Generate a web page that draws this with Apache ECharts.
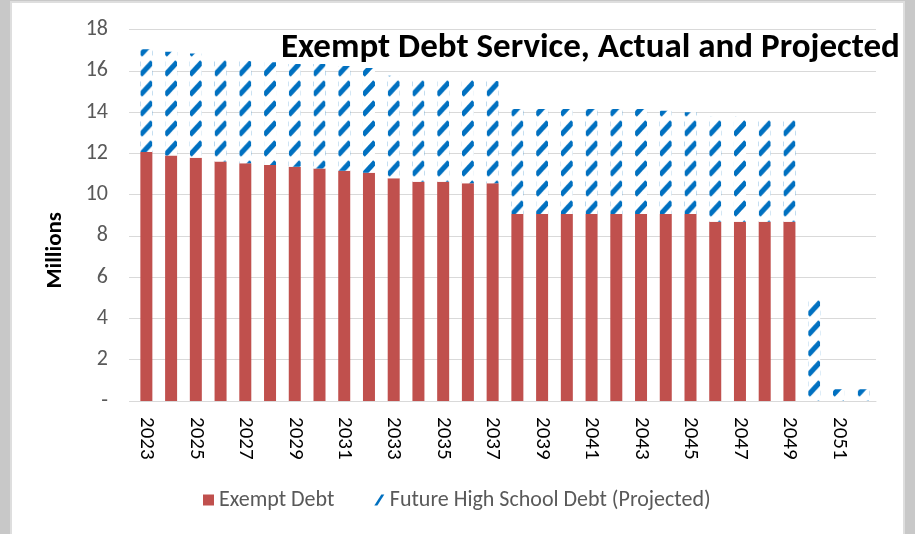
<!DOCTYPE html>
<html>
<head>
<meta charset="utf-8">
<script src="https://cdn.jsdelivr.net/npm/echarts@6/dist/echarts.min.js"></script>
<style>
  html, body { margin: 0; padding: 0; width: 915px; height: 534px; overflow: hidden; background: #c8c8c8; }
  #panel { position: absolute; left: 10px; top: 1px; width: 891px; height: 540px;
           background: #ffffff; border: 2px solid #dedede; }
  #chart { position: absolute; left: 0; top: 0; width: 915px; height: 534px; }
</style>
</head>
<body>
<div id="panel"></div>
<div id="chart"></div>
<script>
// Fiscal years
const years = [
  '2023','2024','2025','2026','2027','2028','2029','2030','2031','2032',
  '2033','2034','2035','2036','2037','2038','2039','2040','2041','2042',
  '2043','2044','2045','2046','2047','2048','2049','2050','2051','2052'
];

// Existing exempt debt service ($ millions)
const exemptDebt = [
  12.06, 11.90, 11.79, 11.61, 11.52, 11.43, 11.35, 11.26, 11.16, 11.06,
  10.79, 10.62, 10.62, 10.55, 10.55, 9.06, 9.06, 9.06, 9.06, 9.06,
  9.06, 9.06, 9.06, 8.69, 8.69, 8.69, 8.69, 0, 0, 0
];

// Projected debt service for the future high school ($ millions)
const futureDebt = [
  4.98, 5.02, 5.05, 4.96, 4.95, 4.98, 4.98, 5.07, 5.07, 5.07,
  4.97, 5.05, 4.96, 5.03, 4.95, 5.09, 5.09, 5.09, 5.09, 5.09,
  5.09, 5.00, 4.93, 5.08, 5.08, 5.01, 5.01, 5.00, 0.57, 0.57
];

const yTicks = { min: 0, max: 18, interval: 2 };

const RED = '#C0504D';
const BLUE = '#0070C0';
const FONT = 'Carlito, Lato, "Noto Sans", sans-serif';
const BAR_W = 12;

// Dashed upward-diagonal fill used for the projected series
const TILE_W = 12, TILE_H = 20;
function makeDashTile() {
  const c = document.createElement('canvas');
  c.width = TILE_W; c.height = TILE_H;
  const ctx = c.getContext('2d');
  ctx.fillStyle = '#ffffff';
  ctx.fillRect(0, 0, TILE_W, TILE_H);
  ctx.strokeStyle = BLUE;
  ctx.lineWidth = 5;
  ctx.lineCap = 'butt';
  for (const dy of [-TILE_H, 0, TILE_H]) {
    ctx.beginPath();
    ctx.moveTo(0, 15 + dy);
    ctx.lineTo(TILE_W, 2 + dy);
    ctx.stroke();
  }
  return c;
}
const dashTile = makeDashTile();

const chart = echarts.init(document.getElementById('chart'), null, { renderer: 'canvas' });

function futureSeriesData(barLefts) {
  return futureDebt.map((v, i) => ({
    value: v,
    itemStyle: {
      color: { image: dashTile, repeat: 'repeat', x: barLefts ? barLefts[i] : 0, y: 0 }
    }
  }));
}

chart.setOption({
  backgroundColor: 'transparent',
  animation: false,
  title: {
    text: 'Exempt Debt Service, Actual and Projected',
    left: 276,
    top: 26,
    textStyle: { fontFamily: FONT, fontSize: 35, fontWeight: 'bold', color: '#000000' }
  },
  grid: { left: 134, right: 39, top: 29.5, bottom: 133 },
  legend: {
    top: 489,
    left: 203,
    padding: 0,
    itemWidth: 11,
    itemHeight: 11,
    itemGap: 40,
    textStyle: { fontFamily: FONT, fontSize: 22, color: '#595959' },
    data: [
      { name: 'Exempt Debt', icon: 'rect', itemStyle: { color: RED } },
      { name: 'Future High School Debt (Projected)',
        icon: 'path://M7,0 L10,0 L3,11 L0,11 Z',
        itemStyle: { color: BLUE } }
    ]
  },
  xAxis: {
    type: 'category',
    data: years,
    axisLine: { lineStyle: { color: '#d9d9d9', width: 1 } },
    axisTick: { show: false },
    axisLabel: {
      interval: 1,
      rotate: -90,
      margin: 16,
      fontFamily: FONT,
      fontSize: 21,
      color: '#000000'
    }
  },
  yAxis: {
    type: 'value',
    min: yTicks.min,
    max: yTicks.max,
    interval: yTicks.interval,
    name: 'Millions',
    nameLocation: 'middle',
    nameRotate: 90,
    nameGap: 67,
    nameTextStyle: {
      fontFamily: FONT, fontSize: 23, fontWeight: 'bold', color: '#000000',
      padding: [0, 70, 0, 0]
    },
    axisLine: { show: false },
    axisTick: { show: true, length: 5, lineStyle: { color: '#d9d9d9' } },
    splitLine: { lineStyle: { color: '#d9d9d9', width: 1 } },
    axisLabel: {
      margin: 26,
      fontFamily: FONT,
      fontSize: 22,
      color: '#595959',
      formatter: v => (v === 0 ? '-' : String(v))
    }
  },
  series: [
    {
      name: 'Exempt Debt',
      type: 'bar',
      stack: 'debt',
      barWidth: BAR_W,
      data: exemptDebt,
      itemStyle: { color: RED }
    },
    {
      name: 'Future High School Debt (Projected)',
      type: 'bar',
      stack: 'debt',
      barWidth: BAR_W,
      data: futureSeriesData(null)
    }
  ]
});

// Anchor the dash pattern to each bar's left edge so every bar shows whole dashes
const barLefts = years.map(y => chart.convertToPixel({ xAxisIndex: 0 }, y) - BAR_W / 2);
chart.setOption({ series: [{}, { data: futureSeriesData(barLefts) }] });
</script>
</body>
</html>
